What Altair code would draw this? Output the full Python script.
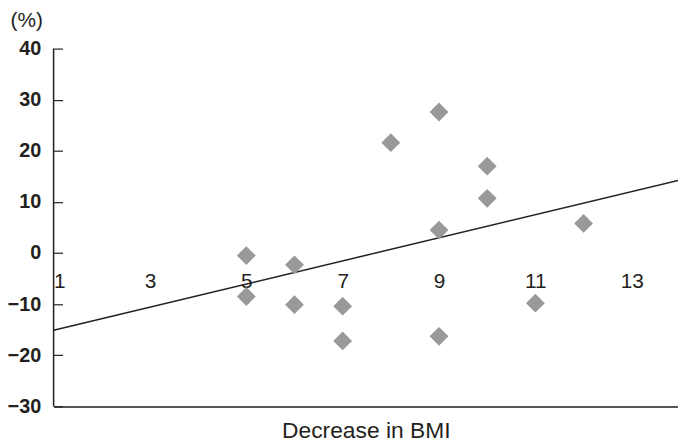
import altair as alt
import pandas as pd

# Data
bmi_decrease = [5, 5, 6, 6, 7, 7, 8, 9, 9, 9, 10, 10, 11, 12]
pct_change = [-0.5, -8.5, -2.3, -10.1, -10.4, -17.2, 21.6, 27.6, 4.5, -16.3, 17.0, 10.7, -9.8, 5.8]

fit_x = [1, 14]
fit_y = [-15.1, 14.3]

x_ticks = [1, 3, 5, 7, 9, 11, 13]
y_ticks = [-30, -20, -10, 0, 10, 20, 30, 40]

X_DOMAIN = [1, 13.96]
Y_DOMAIN = [-30, 40]
FONT = "Liberation Sans"

pts = pd.DataFrame({"x": bmi_decrease, "y": pct_change})
fit = pd.DataFrame({"x": fit_x, "y": fit_y})

x_scale = alt.Scale(domain=X_DOMAIN, nice=False, zero=False)
y_scale = alt.Scale(domain=Y_DOMAIN, nice=False, zero=False)

x_axis = alt.Axis(
    values=x_ticks, title="Decrease in BMI", grid=False, ticks=False,
    domain=True, domainColor="#231f20", domainWidth=1.5,
    labelPadding=-126, labelBaseline="middle", labelFontSize=21,
    labelFont=FONT, labelColor="#231f20",
    titleFont=FONT, titleFontSize=23, titleFontWeight="normal",
    titleColor="#231f20", titlePadding=13,
)
y_axis = alt.Axis(
    values=y_ticks, title="(%)", grid=False, domain=False,
    ticks=True, tickSize=9, tickColor="#231f20", tickWidth=1.2,
    offset=-9, labelPadding=13, labelFontSize=20, labelFont=FONT,
    labelFontWeight="bold", labelColor="#231f20",
    titleAngle=0, titleAlign="left", titleBaseline="middle",
    titleX=-53, titleY=-28, titleFont=FONT, titleFontSize=21,
    titleFontWeight="normal", titleColor="#231f20",
)

points = alt.Chart(pts).mark_point(
    shape="diamond", filled=True, size=360, color="#999999", opacity=1
).encode(
    x=alt.X("x:Q", scale=x_scale, axis=x_axis),
    y=alt.Y("y:Q", scale=y_scale, axis=y_axis),
)

line = alt.Chart(fit).mark_line(color="#231f20", strokeWidth=1.5, clip=True).encode(
    x=alt.X("x:Q", scale=x_scale),
    y=alt.Y("y:Q", scale=y_scale),
)

y_domain_line = alt.Chart(pd.DataFrame({"x": [X_DOMAIN[0]]})).mark_rule(
    color="#231f20", strokeWidth=1.5
).encode(
    x=alt.X("x:Q", scale=x_scale),
    y=alt.datum(Y_DOMAIN[0]),
    y2=alt.datum(Y_DOMAIN[1]),
)

chart = alt.layer(y_domain_line, line, points).properties(
    width=630, height=361,
    autosize=alt.AutoSizeParams(type="none"),
    padding={"left": 46, "top": 39, "right": 0, "bottom": 38},
).configure_view(stroke=None)

chart.save("out.html", embed_options={"renderer": "svg", "actions": False})
